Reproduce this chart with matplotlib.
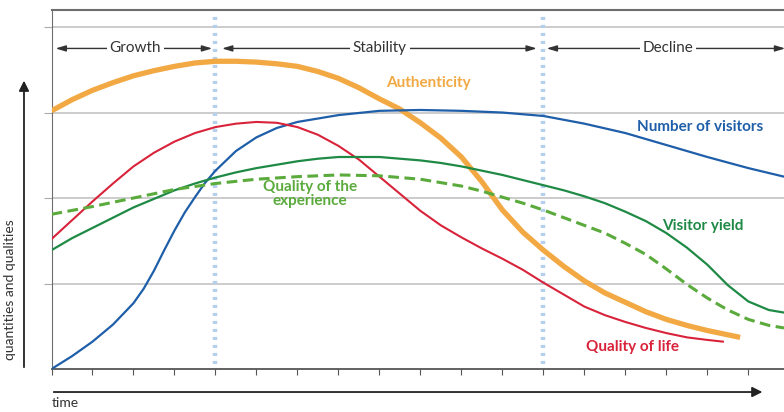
import matplotlib.pyplot as plt
from matplotlib.patches import FancyArrowPatch

plt.rcParams['font.family'] = ['Lato', 'DejaVu Sans']

# --- values (x in time ticks, y in grid units) ---
auth_x = [0, 0.5, 1, 1.5, 2, 2.5, 3, 3.5, 4, 4.5, 5, 5.5, 6, 6.5, 7, 7.5, 8, 8.5, 9, 9.5,
          10, 10.5, 11, 11.5, 12, 12.5, 13, 13.5, 14, 14.5, 15, 15.5, 16, 16.5, 16.8]
auth_y = [3.02, 3.15, 3.26, 3.35, 3.43, 3.49, 3.54, 3.58, 3.6, 3.6, 3.59, 3.57, 3.54, 3.48, 3.40, 3.29, 3.16, 3.04, 2.88, 2.70,
          2.48, 2.19, 1.86, 1.60, 1.39, 1.20, 1.03, 0.89, 0.78, 0.67, 0.58, 0.51, 0.45, 0.40, 0.37]

vis_x = [0, 0.5, 1, 1.5, 2, 2.25, 2.5, 2.75, 3, 3.25, 3.5, 3.75, 4, 4.5, 5, 5.5, 6, 7, 8, 9,
         10, 11, 12, 13, 14, 15, 16, 17, 17.87]
vis_y = [0, 0.15, 0.32, 0.52, 0.77, 0.94, 1.15, 1.39, 1.62, 1.83, 2.01, 2.18, 2.32, 2.55, 2.71, 2.82, 2.89, 2.97, 3.02, 3.03,
         3.02, 3.0, 2.96, 2.87, 2.76, 2.62, 2.48, 2.35, 2.25]

life_x = [0, 0.5, 1, 1.5, 2, 2.5, 3, 3.5, 4, 4.5, 5, 5.5, 6, 6.5, 7, 7.5, 8, 8.5, 9, 9.5,
          10, 10.5, 11, 11.5, 12, 12.5, 13, 13.5, 14, 14.5, 15, 15.5, 16, 16.38]
life_y = [1.52, 1.74, 1.96, 2.17, 2.37, 2.53, 2.66, 2.76, 2.83, 2.87, 2.89, 2.88, 2.83, 2.74, 2.61, 2.45, 2.25, 2.05, 1.85, 1.68,
          1.54, 1.41, 1.29, 1.16, 1.01, 0.87, 0.73, 0.63, 0.55, 0.48, 0.42, 0.37, 0.34, 0.32]

yield_x = [0, 0.5, 1, 1.5, 2, 2.5, 3, 3.5, 4, 4.5, 5, 5.5, 6, 6.5, 7, 7.5, 8, 8.5, 9, 9.5,
           10, 10.5, 11, 11.5, 12, 12.5, 13, 13.5, 14, 14.5, 15, 15.5, 16, 16.5, 17, 17.5, 17.87]
yield_y = [1.39, 1.53, 1.65, 1.77, 1.89, 1.99, 2.09, 2.17, 2.24, 2.30, 2.35, 2.39, 2.43, 2.46, 2.48, 2.48, 2.48, 2.46, 2.44, 2.41,
           2.37, 2.32, 2.27, 2.21, 2.15, 2.09, 2.02, 1.94, 1.84, 1.73, 1.59, 1.42, 1.22, 0.98, 0.79, 0.69, 0.66]

exp_x = [0, 1, 2, 3, 4, 5, 6, 7, 8, 9, 10, 10.5, 11, 11.5, 12, 12.5, 13, 13.5, 14, 14.5,
         15, 15.5, 16, 16.5, 17, 17.5, 17.87]
exp_y = [1.81, 1.9, 2.0, 2.10, 2.17, 2.22, 2.25, 2.27, 2.26, 2.22, 2.14, 2.08, 2.01, 1.94, 1.86, 1.77, 1.68, 1.59, 1.47, 1.34,
         1.17, 0.99, 0.83, 0.69, 0.58, 0.51, 0.48]

phases = ["Growth", "Stability", "Decline"]
phase_start = [0.1, 4.16, 12.08]
phase_end = [3.92, 11.84, 17.9]
phase_text_x = [2.04, 8.01, 15.04]
borders = [4, 12]

c_auth = "#f2a944"
c_vis = "#1f5ea8"
c_life = "#d8233b"
c_yield = "#1f8a45"
c_exp = "#5aaa3c"

fig = plt.figure(figsize=(7.84, 4.12), dpi=100)
ax = fig.add_axes([0.0657, 0.1044, 0.9343, 0.8714])
ax.set_xlim(0, 17.87)
ax.set_ylim(0, 4.2)

# grid + frame
for g in [1, 2, 3, 4]:
    ax.axhline(g, color="#c4c4c4", lw=1.2, zorder=0)
for b in borders:
    ax.axvline(b, ymin=0.015, ymax=0.99, color="#b5cfee", lw=3.2,
               linestyle=(0, (0.7, 1.1)), zorder=1)

ax.spines["right"].set_visible(False)
ax.spines["top"].set_color("#6e6e6e")
ax.spines["top"].set_linewidth(1.5)
ax.spines["left"].set_color("#6e6e6e")
ax.spines["bottom"].set_color("#555555")
ax.spines["bottom"].set_linewidth(1.3)
ax.set_xticks(range(0, 18))
ax.set_yticks([1, 2, 3, 4])
ax.tick_params(axis="x", direction="out", length=4, color="#555555", labelbottom=False)
ax.tick_params(axis="y", direction="out", length=6, color="#aaaaaa", labelleft=False)

# curves
ax.plot(auth_x, auth_y, color=c_auth, lw=3.8, solid_capstyle="butt", solid_joinstyle="round", zorder=3)
ax.plot(vis_x, vis_y, color=c_vis, lw=1.6, solid_joinstyle="round", zorder=4)
ax.plot(life_x, life_y, color=c_life, lw=1.5, solid_joinstyle="round", zorder=4)
ax.plot(yield_x, yield_y, color=c_yield, lw=1.6, solid_joinstyle="round", zorder=4)
ax.plot(exp_x, exp_y, color=c_exp, lw=2.2, linestyle=(0, (3.5, 1.8)), zorder=4)

# curve labels
lab = dict(fontsize=11, fontweight="bold", ha="center", va="center")
ax.text(9.19, 3.34, "Authenticity", color=c_auth, **lab)
ax.text(15.82, 2.83, "Number of visitors", color=c_vis, **lab)
ax.text(6.3, 2.05, "Quality of the\nexperience", color=c_exp, linespacing=1.0, **lab)
ax.text(15.9, 1.67, "Visitor yield", color=c_yield, **lab)
ax.text(14.18, 0.26, "Quality of life", color=c_life, **lab)

# phase arrows
for name, x0, x1, tx in zip(phases, phase_start, phase_end, phase_text_x):
    ax.annotate("", xy=(x1, 3.75), xytext=(x0, 3.75), annotation_clip=False,
                arrowprops=dict(arrowstyle="<|-|>,head_length=0.6,head_width=0.18",
                                color="#333333", lw=1.0, shrinkA=0, shrinkB=0))
    ax.text(tx, 3.75, name, fontsize=11, color="#333333", ha="center", va="center",
            bbox=dict(facecolor="white", edgecolor="none", pad=2), zorder=5)

# outer axis arrows
fig.patches.append(FancyArrowPatch(
    (0.0306, 0.102), (0.0306, 0.811), transform=fig.transFigure,
    arrowstyle="-|>,head_length=6,head_width=3", color="#222222", lw=1.3))
fig.patches.append(FancyArrowPatch(
    (0.065, 0.0485), (0.976, 0.0485), transform=fig.transFigure,
    arrowstyle="-|>,head_length=6,head_width=3", color="#222222", lw=1.3))
fig.text(0.0128, 0.296, "quantities and qualities", rotation=90, fontsize=10,
         color="#333333", ha="center", va="center")
fig.text(0.066, 0.022, "time", fontsize=10, color="#333333", ha="left", va="center")

fig.savefig("out.png", dpi=100)
